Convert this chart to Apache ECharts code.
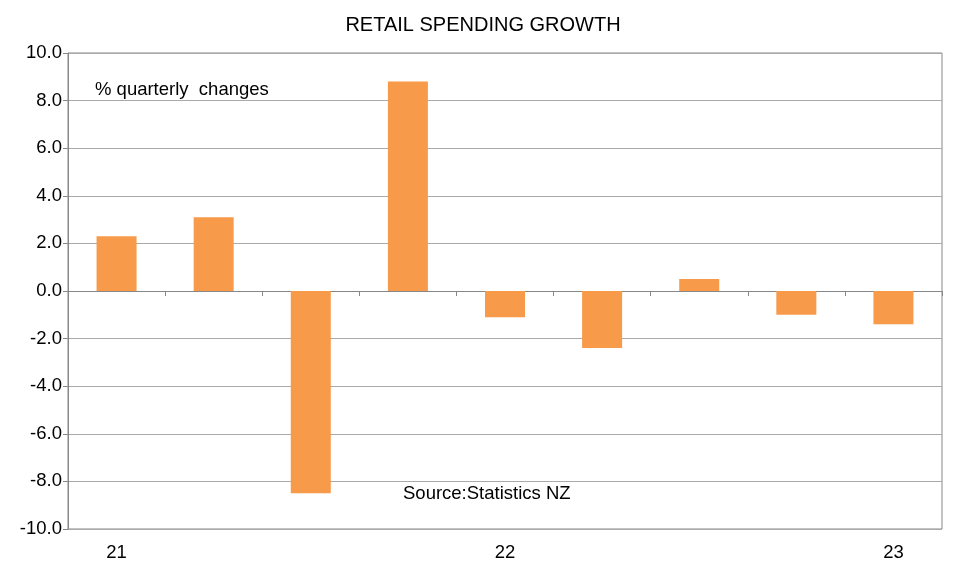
<!DOCTYPE html>
<html>
<head>
<meta charset="utf-8">
<script src="https://cdn.jsdelivr.net/npm/echarts@6/dist/echarts.min.js"></script>
<style>html,body{margin:0;background:#fff}#c{width:966px;height:588px}</style>
</head>
<body>
<div id="c"></div>
<script>
const quarters = ['21', '', '', '', '22', '', '', '', '23']
const growth = [2.3, 3.1, -8.5, 8.8, -1.1, -2.4, 0.5, -1.0, -1.4]

const font = 'Arial, "Liberation Sans", sans-serif'
const chart = echarts.init(document.getElementById('c'))

chart.setOption({
  animation: false,
  title: {
    text: 'RETAIL SPENDING GROWTH',
    left: 'center',
    top: 10,
    textStyle: { fontFamily: font, fontSize: 20, fontWeight: 'normal', color: '#000' }
  },
  grid: { left: 68, right: 24, top: 53, bottom: 59, show: true, borderColor: '#888', borderWidth: 1 },
  graphic: [
    { type: 'text', left: 95, top: 80, style: { text: '% quarterly  changes', font: '18.5px ' + font, fill: '#000' } },
    { type: 'text', left: 403, top: 484, style: { text: 'Source:Statistics NZ', font: '18.5px ' + font, fill: '#000' } }
  ],
  xAxis: [
    {
      type: 'category',
      data: quarters,
      axisLine: { onZero: true, lineStyle: { color: '#888' } },
      axisTick: { show: true, length: 5, lineStyle: { color: '#888' } },
      axisLabel: { show: false }
    },
    {
      type: 'category',
      data: quarters,
      position: 'bottom',
      axisLine: { show: false },
      axisTick: { show: false },
      axisLabel: { show: true, interval: 0, margin: 14, fontFamily: font, fontSize: 18.5, color: '#000' }
    }
  ],
  yAxis: {
    type: 'value',
    min: -10,
    max: 10,
    interval: 2,
    axisLine: { show: true, lineStyle: { color: '#888' } },
    axisTick: { show: true, inside: false, length: 5, lineStyle: { color: '#888' } },
    splitLine: { lineStyle: { color: '#aaa' } },
    axisLabel: { formatter: v => v.toFixed(1), margin: 6, fontFamily: font, fontSize: 18.5, color: '#000' }
  },
  series: [{
    type: 'bar',
    data: growth,
    barWidth: 40,
    itemStyle: { color: '#F79A4A' }
  }]
})
</script>
</body>
</html>
